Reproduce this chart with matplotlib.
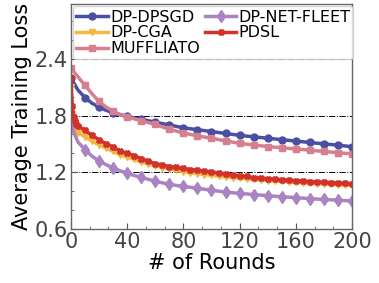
import matplotlib
matplotlib.use("Agg")
import matplotlib.pyplot as plt
from matplotlib.ticker import MultipleLocator, AutoMinorLocator

rounds = [0, 5, 10, 15, 20, 25, 30, 35, 40, 45, 50, 55, 60, 65, 70, 75, 80, 85, 90, 95, 100,
          105, 110, 115, 120, 125, 130, 135, 140, 145, 150, 155, 160, 165, 170, 175, 180,
          185, 190, 195, 200]
rounds_fine = [0, 1, 2, 3, 4] + rounds[1:]

dp_dpsgd = [2.20, 2.07, 1.99, 1.93, 1.89, 1.855, 1.83, 1.81, 1.79, 1.775, 1.76, 1.745, 1.73,
            1.715, 1.70, 1.685, 1.67, 1.66, 1.65, 1.64, 1.63, 1.62, 1.61, 1.60, 1.59, 1.582,
            1.575, 1.567, 1.56, 1.552, 1.545, 1.537, 1.53, 1.522, 1.515, 1.507, 1.50, 1.493,
            1.486, 1.478, 1.47]
muffliato = [2.30, 2.21, 2.12, 2.03, 1.95, 1.89, 1.845, 1.81, 1.785, 1.765, 1.745, 1.725,
             1.705, 1.68, 1.655, 1.635, 1.615, 1.60, 1.585, 1.572, 1.56, 1.545, 1.53, 1.518,
             1.507, 1.497, 1.488, 1.48, 1.472, 1.465, 1.458, 1.452, 1.446, 1.44, 1.433, 1.426,
             1.42, 1.413, 1.407, 1.40, 1.395]
dp_net_fleet = [1.70, 1.52, 1.44, 1.37, 1.32, 1.28, 1.245, 1.215, 1.19, 1.165, 1.145, 1.125,
                1.105, 1.088, 1.074, 1.06, 1.05, 1.04, 1.03, 1.02, 1.01, 1.00, 0.99, 0.983,
                0.976, 0.97, 0.964, 0.958, 0.952, 0.946, 0.941, 0.936, 0.931, 0.926, 0.921,
                0.916, 0.912, 0.908, 0.904, 0.90, 0.896]
dp_cga = [2.10, 1.82, 1.72, 1.67, 1.64, 1.62, 1.575, 1.53, 1.49, 1.455, 1.42, 1.385, 1.36,
          1.335, 1.31, 1.288, 1.268, 1.25, 1.235, 1.22, 1.205, 1.195, 1.185, 1.175, 1.167,
          1.158, 1.15, 1.143, 1.136, 1.13, 1.124, 1.118, 1.112, 1.107, 1.102, 1.097, 1.092,
          1.088, 1.084, 1.08, 1.076, 1.072, 1.068, 1.064, 1.06]
pdsl = [2.20, 1.90, 1.78, 1.74, 1.71, 1.69, 1.645, 1.59, 1.545, 1.50, 1.468, 1.425, 1.40,
        1.375, 1.345, 1.318, 1.29, 1.275, 1.26, 1.252, 1.24, 1.228, 1.222, 1.21, 1.205, 1.19,
        1.185, 1.17, 1.162, 1.155, 1.142, 1.138, 1.13, 1.128, 1.12, 1.115, 1.11, 1.108, 1.10,
        1.098, 1.094, 1.09, 1.088, 1.082, 1.078]

fig = plt.figure(figsize=(3.79, 2.83), dpi=100)
ax = fig.add_axes([0.187, 0.191, 0.742, 0.795])

ax.plot(rounds, dp_dpsgd, color="#4a4fa3", marker="o", ms=5, lw=2.5, markevery=2,
        label="DP-DPSGD")
ax.plot(rounds_fine, dp_cga, color="#f4b842", marker="v", ms=4, lw=2.5,
        label="DP-CGA")
ax.plot(rounds, muffliato, color="#d67f8e", marker="s", ms=5, lw=2.5, markevery=2,
        label="MUFFLIATO")
ax.plot(rounds, dp_net_fleet, color="#a983c2", marker="d", ms=6, lw=2.5, markevery=2,
        label="DP-NET-FLEET")
ax.plot(rounds_fine, pdsl, color="#d2322a", marker="X", ms=4, lw=2.5,
        label="PDSL")

ax.set_xlim(0, 200)
ax.set_ylim(0.6, 2.98)
ax.xaxis.set_major_locator(MultipleLocator(40))
ax.xaxis.set_minor_locator(AutoMinorLocator(3))
ax.yaxis.set_major_locator(MultipleLocator(0.6))
ax.yaxis.set_minor_locator(MultipleLocator(0.2))
ax.set_yticks([0.6, 1.2, 1.8, 2.4])
ax.tick_params(which="both", direction="in", labelsize=15, labelcolor="#444444",
               color="#555555", pad=2)
ax.tick_params(which="major", length=4)
ax.tick_params(which="minor", length=2.5)
for sp in ax.spines.values():
    sp.set_color("#666666")
    sp.set_linewidth(1.0)

ax.yaxis.grid(True, which="major", linestyle="-.", color="black", lw=0.7)
ax.set_axisbelow(True)

ax.set_xlabel("# of Rounds", fontsize=15, labelpad=1)
ax.set_ylabel("Average Training Loss", fontsize=15, labelpad=2)

ax.legend(loc="upper left", ncol=2, fontsize=11.5, handlelength=2.0, handletextpad=0.1,
          columnspacing=0.3, labelspacing=0.05, borderpad=0.2, borderaxespad=0.15)

fig.savefig("out.png", dpi=100)
